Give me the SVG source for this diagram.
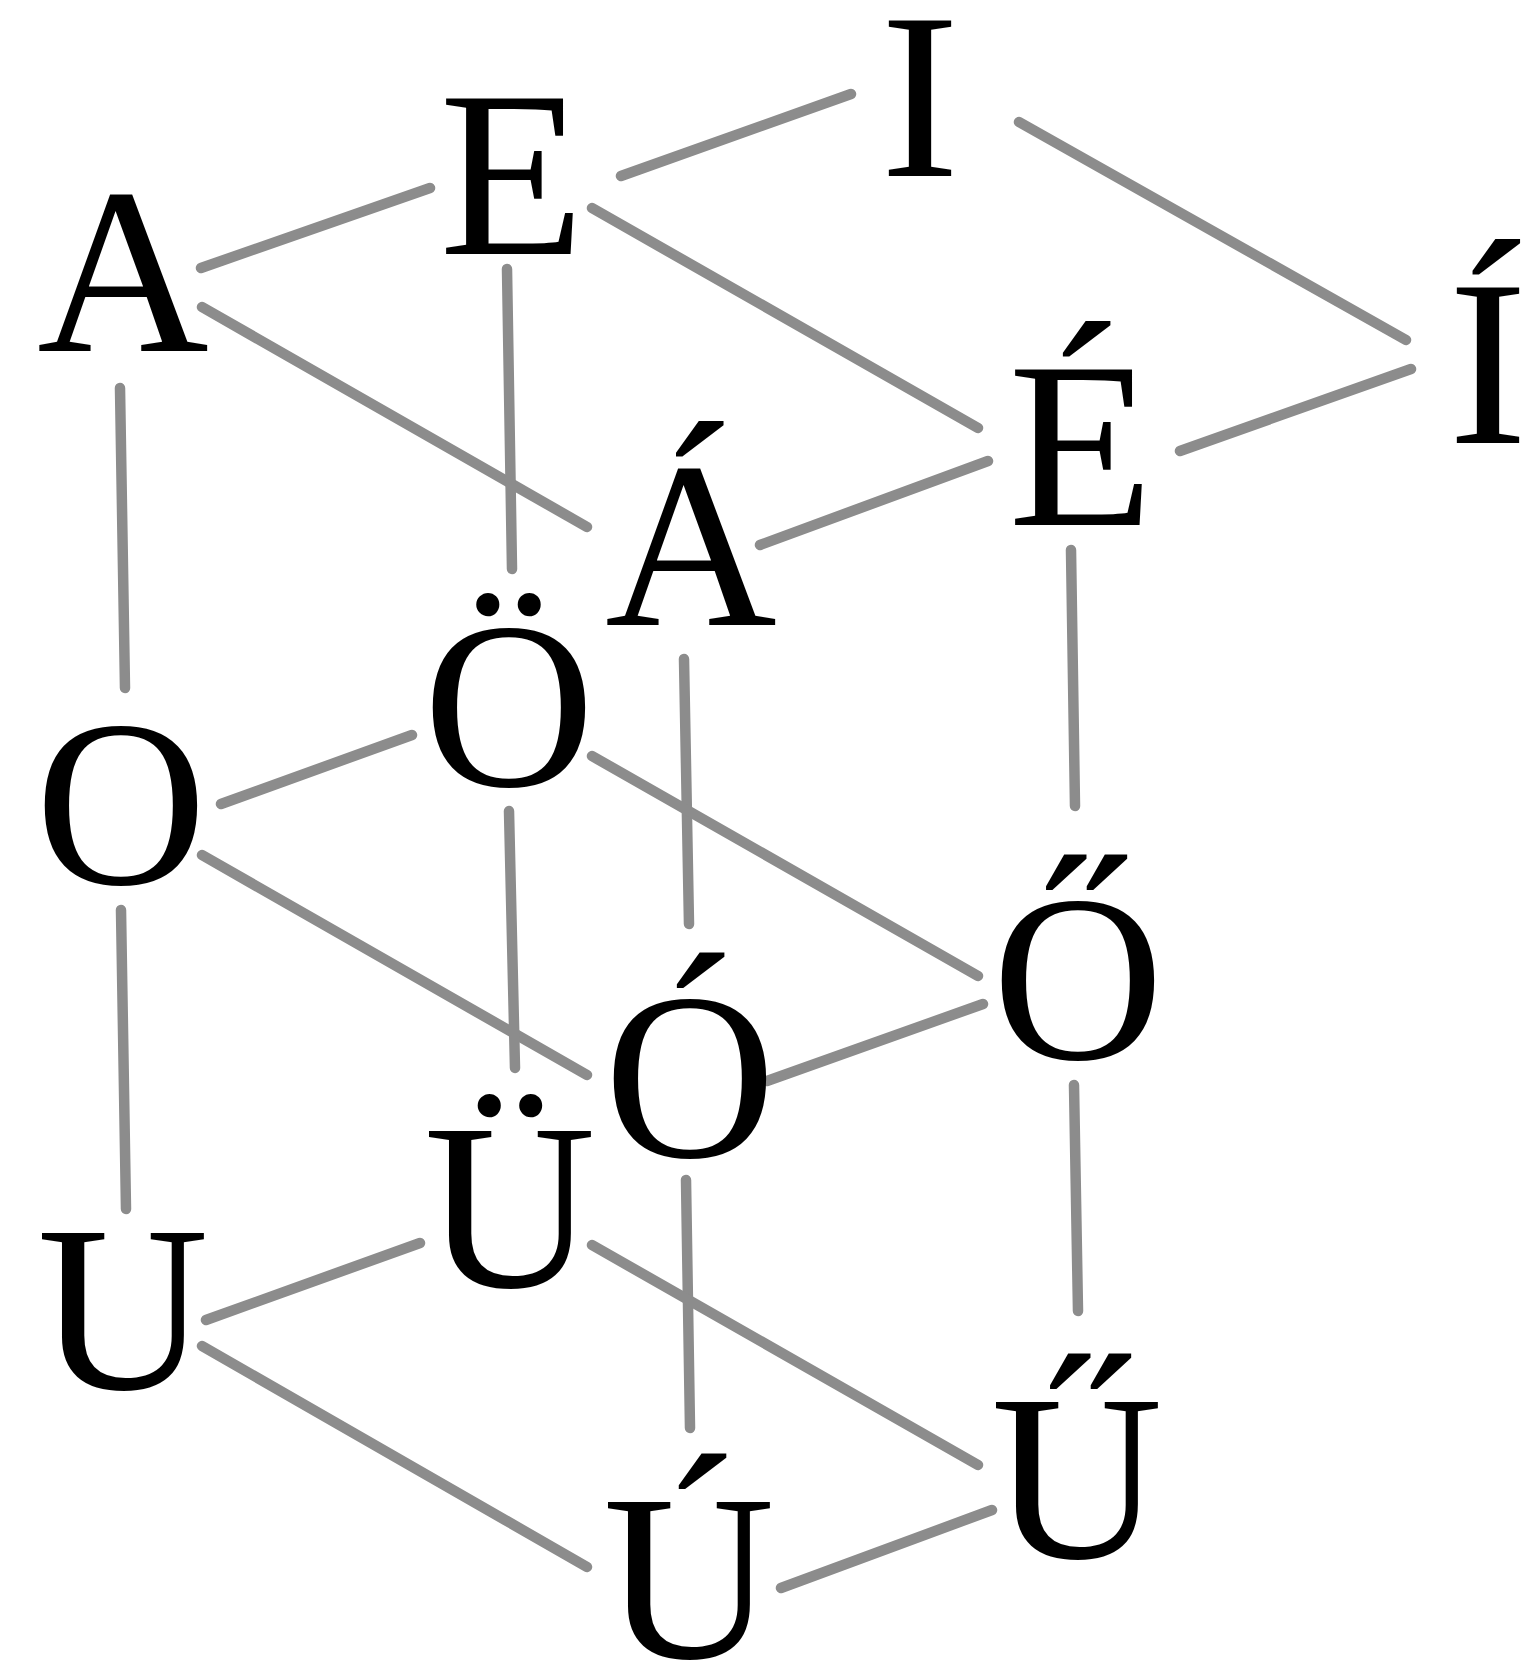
<svg xmlns="http://www.w3.org/2000/svg" width="1538" height="1675" viewBox="0 0 1538 1675">
<style>
.c line{stroke:#8c8c8c;stroke-width:10.5;stroke-linecap:round;fill:none}
.n text{font-size:238px;fill:#000;text-anchor:middle}
</style>
<rect width="1538" height="1675" fill="#fff"/>
<g id="connectors" class="c">
<line x1="201" y1="268" x2="430" y2="188"/>
<line x1="621" y1="176" x2="851" y2="94"/>
<line x1="1019" y1="122" x2="1406" y2="340"/>
<line x1="1180" y1="451" x2="1411" y2="369"/>
<line x1="202" y1="307" x2="587" y2="527"/>
<line x1="592" y1="208" x2="978" y2="428"/>
<line x1="760" y1="545" x2="988" y2="461"/>
<line x1="120" y1="388" x2="125" y2="688"/>
<line x1="507" y1="269" x2="512" y2="569"/>
<line x1="684" y1="659" x2="689" y2="924"/>
<line x1="1071" y1="550" x2="1075" y2="806"/>
<line x1="221" y1="804" x2="412" y2="735"/>
<line x1="202" y1="855" x2="587" y2="1075"/>
<line x1="592" y1="756" x2="978" y2="976"/>
<line x1="767" y1="1081" x2="983" y2="1004"/>
<line x1="509" y1="811" x2="515" y2="1068"/>
<line x1="686" y1="1180" x2="690" y2="1428"/>
<line x1="1074" y1="1085" x2="1078" y2="1311"/>
<line x1="121" y1="910" x2="126" y2="1209"/>
<line x1="206" y1="1320" x2="420" y2="1243"/>
<line x1="202" y1="1346" x2="587" y2="1567"/>
<line x1="592" y1="1245" x2="978" y2="1465"/>
<line x1="781" y1="1588" x2="992" y2="1510"/>
</g>
<g font-family="Liberation Serif, Times New Roman, serif">
<g id="node-A" class="n"><text x="123" y="351">A</text></g>
<g id="node-E" class="n"><text x="512" y="254">E</text></g>
<g id="node-I" class="n"><text x="920" y="176">I</text></g>
<g id="node-Iacute" class="n"><text x="1488" y="443">Í</text></g>
<g id="node-Eacute" class="n"><text x="1081" y="525">É</text></g>
<g id="node-Aacute" class="n"><text x="691" y="625">Á</text></g>
<g id="node-Ouml" class="n"><text x="509" y="786">Ö</text></g>
<g id="node-O" class="n"><text x="121" y="884">O</text></g>
<g id="node-Odblac" class="n"><text x="1078" y="1059">Ő</text></g>
<g id="node-Oacute" class="n"><text x="690" y="1157">Ó</text></g>
<g id="node-Uuml" class="n"><text x="510" y="1287">Ü</text></g>
<g id="node-U" class="n"><text x="123" y="1389">U</text></g>
<g id="node-Udblac" class="n"><text x="1077" y="1558">Ű</text></g>
<g id="node-Uacute" class="n"><text x="689" y="1658">Ú</text></g>
</g>
</svg>
